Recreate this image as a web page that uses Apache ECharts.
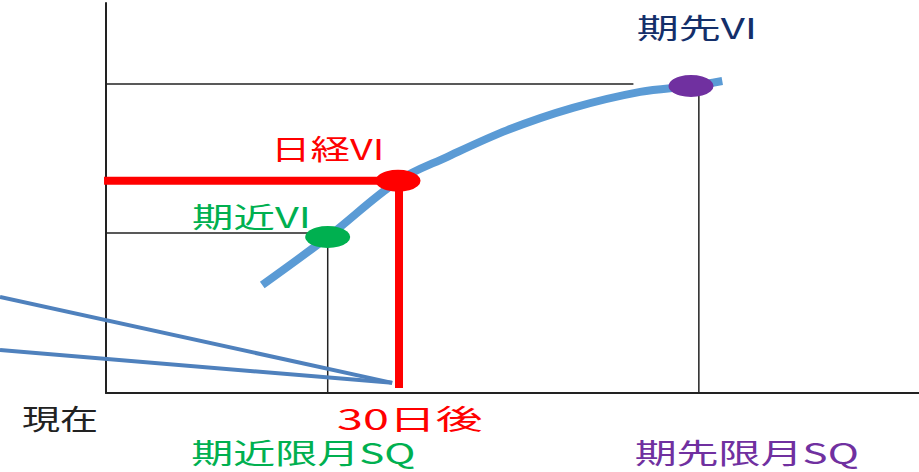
<!DOCTYPE html>
<html>
<head>
<meta charset="utf-8">
<script src="https://cdn.jsdelivr.net/npm/echarts@6/dist/echarts.min.js"></script>
<style>
html,body{margin:0;padding:0;background:#fff;}
#chart{width:919px;height:472px;}
</style>
</head>
<body>
<div id="chart"></div>
<script>
// ---- data (x: days from now, y: volatility level, arbitrary units) ----
const curveX = [16.0, 22.7, 29.9, 34.9, 41.1, 47.8, 54.7, 59.9, 63.1];
const curveY = [27.7, 40.0, 54.4, 60.5, 67.4, 73.1, 77.2, 78.7, 80.0];

const pointNames = ['期近VI', '日経VI', '期先VI'];
const pointX = [22.7, 29.9, 59.9];
const pointY = [40.0, 54.4, 78.7];

// guide lines: near SQ, Nikkei VI (30 days), far SQ
const guideLevelY = [41.0, 54.4, 79.2];
const guideStartX = [0, -0.2, 0];
const guideEndX = [22.7, 29.9, 54.0];
const guideDropX = [22.7, 30.0, 60.7];
const guideDropTop = [40.0, 54.4, 78.7];
const guideDropBottom = [0, 1.3, 0];

// callout pointer lines
const calloutStartX = [-10.85, -10.85];
const calloutStartY = [24.6, 11.0];
const calloutTipX = [29.3, 29.3];
const calloutTipY = [2.6, 2.6];

// text labels
const labelTexts = ['期先VI', '日経VI', '期近VI', '現在', '30日後', '期近限月SQ', '期先限月SQ'];
const labelX = [60.5, 22.7, 14.9, -4.7, 31.1, 20.2, 65.6];
const labelY = [94.0, 63.0, 45.5, -6.3, -6.3, -15.2, -15.2];

const xMin = 0, xMax = 83.24, yMin = 0, yMax = 100;
const xMinWide = -10.85;

// ---- styles ----
const guideColors = ['#222222', '#FF0000', '#222222'];
const guideWidths = [1.5, 8, 1.5];
const pointColors = ['#00B050', '#FF0000', '#7030A0'];
const labelColors = ['#142F6A', '#FF0000', '#00B050', '#222222', '#FF0000', '#00B050', '#7030A0'];
const labelScaleX = [1.5, 1.41, 1.48, 1.36, 1.67, 1.5, 1.5];

const series = [];
for (let i = 0; i < guideLevelY.length; i++) {
  series.push({
    type: 'line', symbol: 'none', clip: false, silent: true, z: i === 1 ? 3 : 2,
    lineStyle: { color: guideColors[i], width: guideWidths[i] },
    data: [[guideStartX[i], guideLevelY[i]], [guideEndX[i], guideLevelY[i]]]
  });
  series.push({
    type: 'line', symbol: 'none', clip: false, silent: true, z: i === 1 ? 3 : 2,
    lineStyle: { color: guideColors[i], width: guideWidths[i] },
    data: [[guideDropX[i], guideDropTop[i]], [guideDropX[i], guideDropBottom[i]]]
  });
}
series.push({
  type: 'line', symbol: 'none', clip: false, silent: true, z: 4, smooth: 0.35,
  lineStyle: { color: '#5B9BD5', width: 8, cap: 'butt' },
  data: curveX.map((x, i) => [x, curveY[i]])
});
for (let i = 0; i < calloutStartX.length; i++) {
  series.push({
    type: 'line', symbol: 'none', clip: false, silent: true, z: 5,
    xAxisIndex: 1, yAxisIndex: 1,
    lineStyle: { color: '#4F81BD', width: 4 },
    data: [[calloutStartX[i], calloutStartY[i]], [calloutTipX[i], calloutTipY[i]]]
  });
}
series.push({
  type: 'scatter', z: 6, symbol: 'circle', symbolSize: [45, 22], clip: false, silent: true,
  data: pointX.map((x, i) => ({ name: pointNames[i], value: [x, pointY[i]], itemStyle: { color: pointColors[i], opacity: 1 } }))
});
series.push({
  type: 'custom', z: 7, clip: false, silent: true,
  data: labelX.map((x, i) => [x, labelY[i]]),
  renderItem: function (params, api) {
    const i = params.dataIndex;
    const p = api.coord([api.value(0), api.value(1)]);
    return {
      type: 'text', x: p[0], y: p[1], scaleX: labelScaleX[i], scaleY: 1,
      style: {
        text: labelTexts[i], fill: labelColors[i],
        font: '28px "Noto Sans CJK JP"', align: 'center', verticalAlign: 'middle'
      }
    };
  }
});

const hiddenAxis = {
  axisLine: { show: false }, axisTick: { show: false }, axisLabel: { show: false }, splitLine: { show: false }
};
const chart = echarts.init(document.getElementById('chart'), null, { renderer: 'svg' });
chart.setOption({
  animation: false,
  backgroundColor: '#ffffff',
  grid: [
    { left: 106, right: 0, top: 3, bottom: 79 },
    { left: 0, right: 0, top: 3, bottom: 79 }
  ],
  xAxis: [{
    type: 'value', min: xMin, max: xMax, gridIndex: 0,
    axisLine: { show: true, onZero: false, lineStyle: { color: '#222', width: 2 } },
    axisTick: { show: false }, axisLabel: { show: false }, splitLine: { show: false }
  }, Object.assign({ type: 'value', min: xMinWide, max: xMax, gridIndex: 1 }, hiddenAxis)],
  yAxis: [{
    type: 'value', min: yMin, max: yMax, gridIndex: 0,
    axisLine: { show: true, onZero: false, lineStyle: { color: '#222', width: 2 } },
    axisTick: { show: false }, axisLabel: { show: false }, splitLine: { show: false }
  }, Object.assign({ type: 'value', min: yMin, max: yMax, gridIndex: 1 }, hiddenAxis)],
  series: series
});
</script>
</body>
</html>
